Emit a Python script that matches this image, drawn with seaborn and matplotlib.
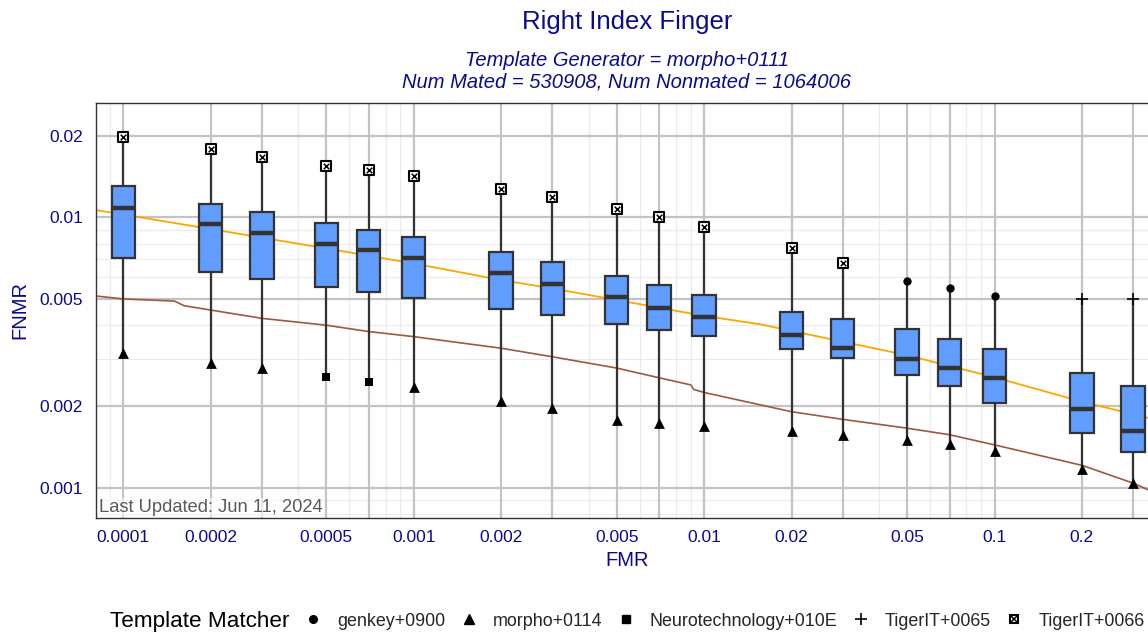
import numpy as np
import pandas as pd
import matplotlib
matplotlib.use("Agg")
import matplotlib.pyplot as plt
from matplotlib.lines import Line2D
from matplotlib.legend_handler import HandlerTuple
import seaborn as sns

# ---- data -------------------------------------------------------------
fmr = [0.0001, 0.0002, 0.0003, 0.0005, 0.0007, 0.001, 0.002, 0.003, 0.005,
       0.007, 0.01, 0.02, 0.03, 0.05, 0.07, 0.1, 0.2, 0.3]
fnmr_min = [0.00314, 0.00288, 0.00278, 0.00257, 0.00246, 0.00235, 0.00210,
            0.00197, 0.00178, 0.00173, 0.00169, 0.00162, 0.00157, 0.00150,
            0.00145, 0.00137, 0.00117, 0.00104]
fnmr_q1 = [0.00707, 0.00629, 0.00591, 0.00552, 0.00528, 0.00503, 0.00458,
           0.00434, 0.00403, 0.00383, 0.00364, 0.00327, 0.00301, 0.00261,
           0.00238, 0.00206, 0.00160, 0.00136]
fnmr_med = [0.01085, 0.00945, 0.00873, 0.00797, 0.00757, 0.00709, 0.00621,
            0.00567, 0.00506, 0.00463, 0.00427, 0.00368, 0.00329, 0.00299,
            0.00278, 0.00255, 0.00195, 0.00162]
fnmr_q3 = [0.01306, 0.01123, 0.01046, 0.00953, 0.00900, 0.00848, 0.00744,
           0.00685, 0.00608, 0.00562, 0.00516, 0.00448, 0.00421, 0.00385,
           0.00355, 0.00326, 0.00266, 0.00238]
fnmr_max = [0.01977, 0.01783, 0.01675, 0.01551, 0.01496, 0.01425, 0.01276,
            0.01186, 0.01071, 0.01000, 0.00923, 0.00770, 0.00678, 0.00581,
            0.00548, 0.00512, 0.00500, 0.00500]
best_matcher = (["morpho+0114"] * 3 + ["Neurotechnology+010E"] * 2
                + ["morpho+0114"] * 13)
worst_matcher = (["TigerIT+0066"] * 13 + ["genkey+0900"] * 3
                 + ["TigerIT+0065"] * 2)

# reference DET curves
orange_fmr = [8.0e-5, 1e-4, 2e-4, 5e-4, 1e-3, 2e-3, 3e-3, 0.01, 0.0156,
              0.05, 0.1, 0.2, 0.34]
orange_fnmr = [0.01064, 0.01024, 0.00905, 0.00767, 0.00675, 0.00586, 0.00546,
               0.00432, 0.00402, 0.00309, 0.00256, 0.00208, 0.00181]
brown_fmr = [8.0e-5, 1.0e-4, 1.50e-4, 1.62e-4, 2e-4, 3e-4, 5e-4, 7e-4, 1e-3,
             2e-3, 3e-3, 5e-3, 7e-3, 9.0e-3, 9.2e-3, 0.01, 0.02, 0.03, 0.05,
             0.07, 0.1, 0.155, 0.2, 0.3, 0.34]
brown_fnmr = [0.00512, 0.00499, 0.00490, 0.00471, 0.00454, 0.00423, 0.00399,
              0.00378, 0.00362, 0.00328, 0.00305, 0.00277, 0.00255, 0.00240,
              0.00231, 0.00225, 0.00191, 0.00179, 0.00166, 0.00157, 0.00144,
              0.00129, 0.00121, 0.00104, 0.00098]

matchers = ["genkey+0900", "morpho+0114", "Neurotechnology+010E",
            "TigerIT+0065", "TigerIT+0066"]

x_tick_values = [0.0001, 0.0002, 0.0005, 0.001, 0.002, 0.005, 0.01, 0.02,
                 0.05, 0.1, 0.2]
x_tick_labels = ["0.0001", "0.0002", "0.0005", "0.001", "0.002", "0.005",
                 "0.01", "0.02", "0.05", "0.1", "0.2"]
y_tick_values = [0.001, 0.002, 0.005, 0.01, 0.02]
y_tick_labels = ["0.001", "0.002", "0.005", "0.01", "0.02"]
x_minor_grid = [9e-5, 4e-4, 6e-4, 8e-4, 9e-4, 4e-3, 6e-3, 8e-3, 9e-3,
                0.04, 0.06, 0.08, 0.09]
y_minor_grid = [0.0008, 0.0009, 0.003, 0.004, 0.006, 0.007, 0.008, 0.009]

# ---- style ------------------------------------------------------------
sns.set_style("white")
plt.rcParams["font.family"] = ["Liberation Sans", "DejaVu Sans"]
NAVY = "#0b0b8a"
DARK = "#333333"
BOXBLUE = "#619CFF"

fig = plt.figure(figsize=(11.48, 6.33), dpi=100)
W, H = 1148, 633
left_px, right_px, top_px, bottom_px = 95.7, 1158, 102.7, 517.7
ax = fig.add_axes([left_px / W, 1 - bottom_px / H,
                   (right_px - left_px) / W, (bottom_px - top_px) / H])

# long-format table: five summary values per operating point
rows = []
for f, a, b, c, d, e in zip(fmr, fnmr_min, fnmr_q1, fnmr_med, fnmr_q3, fnmr_max):
    for v in (a, b, c, d, e):
        rows.append({"FMR": f, "FNMR": v})
box_df = pd.DataFrame(rows)

# grid
for v in x_minor_grid:
    ax.axvline(v, color="#ebebeb", lw=0.8, zorder=0.3)
for v in y_minor_grid:
    ax.axhline(v, color="#ebebeb", lw=0.8, zorder=0.3)
for v in fmr:
    ax.axvline(v, color="#c3c3c3", lw=1.6, zorder=0.5)
for v in y_tick_values:
    ax.axhline(v, color="#c3c3c3", lw=1.6, zorder=0.5)

# DET curves
sns.lineplot(x=orange_fmr, y=orange_fnmr, color="#FFA500", lw=1.3,
             estimator=None, sort=False, ax=ax, zorder=1.5)
sns.lineplot(x=brown_fmr, y=brown_fnmr, color="#9C5A3C", lw=1.2,
             estimator=None, sort=False, ax=ax, zorder=1.5)

sns.boxplot(data=box_df, x="FMR", y="FNMR", native_scale=True,
            log_scale=(True, True), width=0.55, whis=(0, 100),
            color=BOXBLUE, saturation=1, linecolor=DARK, linewidth=1.6,
            showfliers=False, showcaps=False,
            medianprops={"linewidth": 3.2}, ax=ax)

# extreme-value markers
pts = pd.DataFrame({"FMR": fmr * 2,
                    "FNMR": fnmr_min + fnmr_max,
                    "matcher": best_matcher + worst_matcher})


def pick(name):
    return pts[pts["matcher"] == name]


sns.scatterplot(data=pick("genkey+0900"), x="FMR", y="FNMR", marker="o",
                color="black", s=36, linewidth=0, ax=ax, zorder=4)
sns.scatterplot(data=pick("morpho+0114"), x="FMR", y="FNMR", marker="^",
                color="black", s=60, linewidth=0, ax=ax, zorder=4)
sns.scatterplot(data=pick("Neurotechnology+010E"), x="FMR", y="FNMR",
                marker="s", color="black", s=38, linewidth=0, ax=ax, zorder=4)
sns.scatterplot(data=pick("TigerIT+0065"), x="FMR", y="FNMR", marker="+",
                color="black", s=80, linewidth=1.2, ax=ax, zorder=4)
sns.scatterplot(data=pick("TigerIT+0066"), x="FMR", y="FNMR", marker="s",
                facecolor="white", edgecolor="black", s=42, linewidth=1.5,
                ax=ax, zorder=4)
sns.scatterplot(data=pick("TigerIT+0066"), x="FMR", y="FNMR", marker="x",
                color="black", s=16, linewidth=1.1, ax=ax, zorder=5)

# axes
ax.set_xscale("log")
ax.set_yscale("log")
ax.set_xlim(10 ** -4.095, 10 ** -0.437)
ax.set_ylim(10 ** -3.1109, 10 ** -1.5762)
ax.set_xticks(x_tick_values)
ax.set_xticklabels(x_tick_labels)
ax.set_yticks(y_tick_values)
ax.set_yticklabels(y_tick_labels)
ax.xaxis.set_minor_locator(matplotlib.ticker.NullLocator())
ax.yaxis.set_minor_locator(matplotlib.ticker.NullLocator())
ax.tick_params(axis="both", which="major", direction="out", length=4,
               width=1, color=DARK, labelcolor=NAVY, labelsize=12.5, pad=5)
ax.set_xlabel("")
ax.set_ylabel("")
for sp in ax.spines.values():
    sp.set_color(DARK)
    sp.set_linewidth(1.0)

ax.text(0.003, 0.004, "Last Updated: Jun 11, 2024", transform=ax.transAxes,
        ha="left", va="bottom", fontsize=13.2, color="#5a5a5a", zorder=6,
        bbox=dict(facecolor="white", edgecolor="none", alpha=0.6, pad=0.5))

# titles and axis labels
cx = (left_px + right_px) / 2 / W
fig.text(cx, 1 - 22 / H, "Right Index Finger", ha="center", va="center",
         fontsize=18.5, color=NAVY)
fig.text(cx, 1 - 60 / H, "Template Generator = morpho+0111", ha="center",
         va="center", fontsize=14.5, style="italic", color=NAVY)
fig.text(cx, 1 - 82 / H, "Num Mated = 530908, Num Nonmated = 1064006",
         ha="center", va="center", fontsize=14.5, style="italic", color=NAVY)
fig.text(cx, 1 - 561 / H, "FMR", ha="center", va="center", fontsize=14.5,
         color=NAVY)
fig.text(20 / W, 1 - 310 / H, "FNMR", ha="center", va="center",
         fontsize=14.5, color=NAVY, rotation=90)

# legend along the bottom
fig.text(110 / W, 1 - 621 / H, "Template Matcher", ha="left", va="center",
         fontsize=16.2, color="black")
handles = [
    Line2D([], [], marker="o", color="black", ls="None", markersize=5.5),
    Line2D([], [], marker="^", color="black", ls="None", markersize=7),
    Line2D([], [], marker="s", color="black", ls="None", markersize=5.8),
    Line2D([], [], marker="+", color="black", ls="None", markersize=9,
           markeredgewidth=1.2),
    (Line2D([], [], marker="s", markerfacecolor="white",
            markeredgecolor="black", ls="None", markersize=6.4,
            markeredgewidth=1.5),
     Line2D([], [], marker="x", color="black", ls="None", markersize=3.8,
            markeredgewidth=1.1)),
]
fig.legend(handles, matchers, loc="center left",
           bbox_to_anchor=(304 / W, 1 - 621 / H), ncol=5, frameon=False,
           fontsize=12.9, handlelength=1.0, handletextpad=0.85,
           columnspacing=0.8, borderpad=0, borderaxespad=0,
           handler_map={tuple: HandlerTuple(ndivide=1)})

fig.savefig("out.png", dpi=100)
